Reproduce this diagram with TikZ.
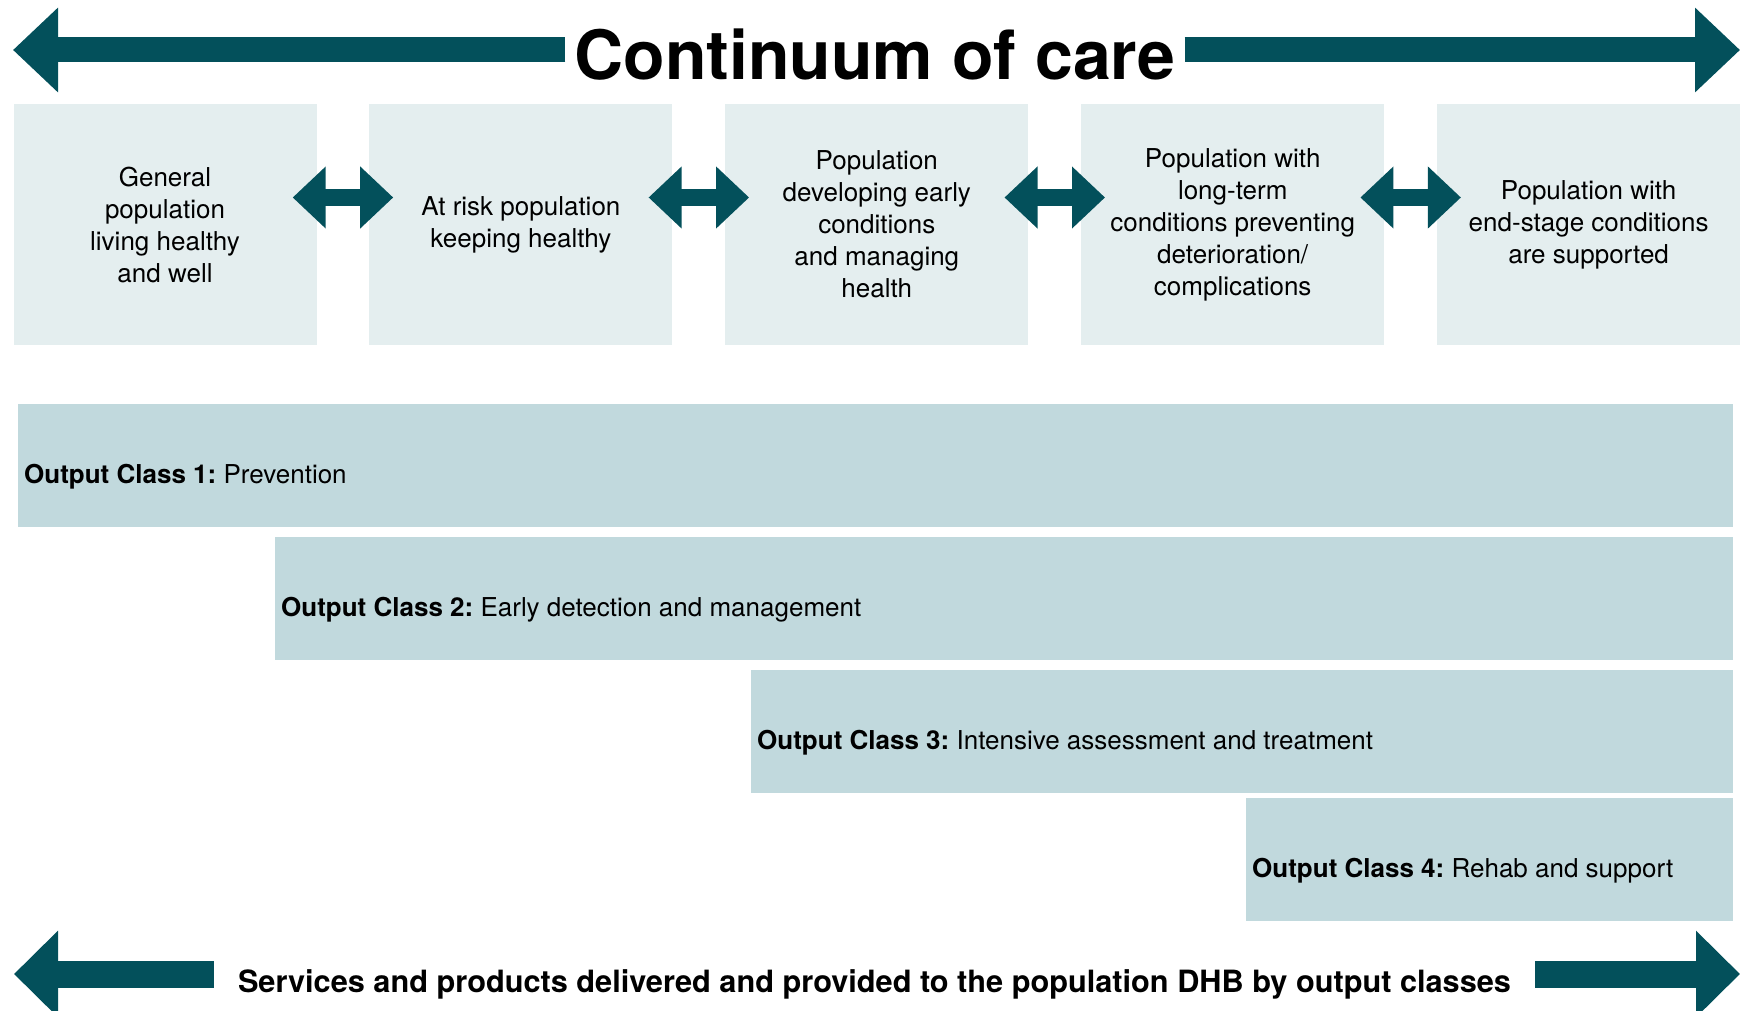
\documentclass[tikz,border=0pt]{standalone}
\usepackage{fontspec}
\setmainfont{TeX Gyre Heros}
\usetikzlibrary{arrows.meta,positioning}
\definecolor{careteal}{RGB}{3,80,91}
\definecolor{stagefill}{RGB}{228,238,239}
\definecolor{classfill}{RGB}{193,217,221}
\frenchspacing

\begin{document}
\begin{tikzpicture}[x=1pt, y=-1pt, node distance=52.5pt,
  stage/.style={fill=stagefill, minimum width=303pt, minimum height=241pt,
                inner sep=0pt, align=center, font=\fontsize{26}{32}\selectfont},
  outclass/.style={fill=classfill, minimum height=123pt, inner sep=0pt, anchor=north west},
  classtxt/.style={anchor=base west, inner sep=0pt, font=\fontsize{26}{32}\selectfont},
  swap/.style={careteal, line width=17pt,
               {Triangle[length=33pt,width=60pt]}-{Triangle[length=33pt,width=60pt]}},
  bigarr/.style={careteal, line width=25pt, -{Triangle[length=45pt,width=82pt]}},
  basearr/.style={careteal, line width=27pt, -{Triangle[length=44pt,width=84pt]}}]
\useasboundingbox (0,0) rectangle (1747,1011);
\clip (0,0) rectangle (1747,1011);

% heading with its two-way arrow
\node[font=\fontsize{68}{80}\selectfont\bfseries, inner xsep=9pt, anchor=base] (title)
  at (875,80) {Continuum of care};
\coordinate (topleft) at (13,50);
\coordinate (topright) at (1740,50);
\draw[bigarr] (title.west |- topleft) -- (topleft);
\draw[bigarr] (title.east |- topright) -- (topright);

% population stages
\node[stage] (s1) at (165,224.5) {General\\population\\living healthy\\and well};
\node[stage, right=of s1] (s2) {At risk population\\keeping healthy};
\node[stage, right=of s2] (s3) {Population\\developing early\\conditions\\and managing\\health};
\node[stage, right=of s3] (s4) {Population with\\long-term\\conditions preventing\\deterioration/\\complications};
\node[stage, right=of s4] (s5) {Population with\\end-stage conditions\\are supported};
\foreach \a/\b in {s1/s2, s2/s3, s3/s4, s4/s5}
  \draw[swap] ([xshift=-24pt,yshift=27pt]\a.east) -- ([xshift=24pt,yshift=27pt]\b.west);

% output classes
\node[outclass, minimum width=1715pt] (oc1) at (18,404) {};
\node[outclass, minimum width=1458pt] (oc2) at (275,537) {};
\node[outclass, minimum width=982pt] (oc3) at (751,670) {};
\node[outclass, minimum width=487pt] (oc4) at (1246,798) {};
\node[classtxt] (oc1txt) at ([xshift=6pt,yshift=-18pt]oc1.west) {\textbf{Output Class 1:} Prevention};
\node[classtxt] (oc2txt) at ([xshift=6pt,yshift=-18pt]oc2.west) {\textbf{Output Class 2:} Early detection and management};
\node[classtxt] (oc3txt) at ([xshift=6pt,yshift=-18pt]oc3.west) {\textbf{Output Class 3:} Intensive assessment and treatment};
\node[classtxt] (oc4txt) at ([xshift=6pt,yshift=-18pt]oc4.west) {\textbf{Output Class 4:} Rehab and support};

% services line at the foot
\node[font=\fontsize{30.7}{36}\selectfont\bfseries, inner xsep=24pt, anchor=base] (services)
  at (874.5,992) {Services and products delivered and provided to the population DHB by output classes};
\coordinate (baseleft) at (14,974);
\coordinate (baseright) at (1740,974);
\draw[basearr] (services.west |- baseleft) -- (baseleft);
\draw[basearr] (services.east |- baseright) -- (baseright);
\end{tikzpicture}
\end{document}
